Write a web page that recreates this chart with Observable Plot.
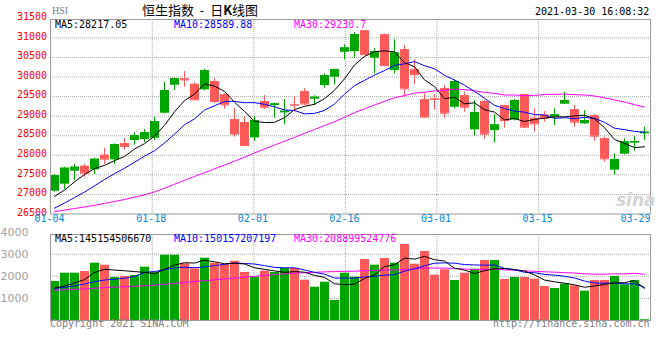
<!DOCTYPE html>
<html><head><meta charset="utf-8">
<script src="https://cdn.jsdelivr.net/npm/d3@7"></script>
<script src="https://cdn.jsdelivr.net/npm/@observablehq/plot@0.6"></script>
<style>
html,body{margin:0;padding:0;background:#fff;}
#wrap{position:relative;width:660px;height:360px;overflow:hidden;background:#fff;}
.t{position:absolute;white-space:pre;font:10px "DejaVu Sans Mono",monospace;line-height:10px;}
.p{position:absolute;left:0;}
</style></head><body><div id="wrap">
<div class="p" id="main" style="top:0"></div>
<div class="p" id="vol" style="top:222px"></div>
<div class="t" style="left:52px;top:5px;color:#7a7a7a;font:10px 'Liberation Serif',serif;line-height:12px;">HSI</div>
<div class="t" style="left:142px;top:3px;font:13px 'Noto Sans CJK SC';line-height:14px;">恒生指数  -  日<b>K</b>线图</div>
<div class="t" id="stamp" style="left:535px;top:7px;"></div>
<div class="t" id="m5" style="left:55px;top:19.5px;color:#000"></div>
<div class="t" id="m10" style="left:174px;top:19.5px;color:#0000ff"></div>
<div class="t" id="m30" style="left:294px;top:19.5px;color:#ff00ff"></div>
<div class="t" id="v5" style="left:55px;top:234px;color:#000"></div>
<div class="t" id="v10" style="left:174px;top:234px;color:#0000ff"></div>
<div class="t" id="v30" style="left:294px;top:234px;color:#ff00ff"></div>
<div class="t" style="left:50px;top:319px;color:#808080">Copyright 2021 SINA.COM</div>
<div class="t" style="left:493px;top:319px;color:#808080">http://finance.sina.com.cn</div>
<div class="t" style="left:616px;top:192px;color:#d4d4d4;font:italic bold 17px 'DejaVu Sans',sans-serif;line-height:17px;">sina</div>
</div>
<script>
// ---- data ----
const dates = ["01-04","01-05","01-06","01-07","01-08","01-11","01-12","01-13","01-14","01-15",
"01-18","01-19","01-20","01-21","01-22","01-25","01-26","01-27","01-28","01-29",
"02-01","02-02","02-03","02-04","02-05","02-08","02-09","02-10","02-11","02-16",
"02-17","02-18","02-19","02-22","02-23","02-24","02-25","02-26","03-01","03-02",
"03-03","03-04","03-05","03-08","03-09","03-10","03-11","03-12","03-15","03-16",
"03-17","03-18","03-19","03-22","03-23","03-24","03-25","03-26","03-29","03-30"];
const open = [27083,27262,27594,27722,27628,28003,27883,28300,28377,28403,
28437,29075,29790,29960,29816,29671,29884,29552,28913,28837,
28445,29373,29271,29084,29296,29628,29433,29781,29995,30633,
30650,31186,30480,31084,30165,30701,30190,29424,29441,29705,
29228,29526,28650,29373,28632,29271,28905,29552,28947,29032,
28972,29305,29169,28803,29015,28428,27620,28028,28309,28547];
const high = [27509,27696,27764,27764,27926,28181,28290,28428,28573,28658,
28973,29858,29975,30139,29858,30199,29952,29569,29194,28973,
28990,29526,29330,29424,29492,29705,29518,30080,30200,30820,
31135,31186,30727,31100,30957,30803,30437,29569,29552,29781,
29926,29611,29399,29399,29041,29280,29424,29560,29186,29118,
29186,29611,29271,29143,29040,28462,28037,28420,28479,28718];
const low = [27057,27126,27356,27441,27509,27764,27764,28130,28258,28317,
28377,29060,29654,29739,29399,29654,29331,29177,28462,28224,
28360,29177,28947,28777,29101,29271,29271,29714,29807,30437,
30480,30548,30080,30267,30080,29484,29807,28950,29160,28947,
29186,29101,28488,28411,28309,28692,28879,28692,28590,28845,
28760,29295,28718,28790,28360,27824,27492,28010,28105,28377];
const close = [27483,27671,27696,27543,27900,27900,28275,28224,28505,28581,
28862,29654,29960,29926,29416,30165,29373,29288,28539,28249,
28888,29228,29313,29126,29280,29313,29484,30037,30190,30744,
31084,30573,30650,30292,30616,29697,30063,28973,29424,29075,
29884,29228,29092,28539,28777,28888,29399,28718,28803,28947,
29041,29399,28845,28888,28488,27909,27892,28343,28352,28590];
const ma5 = [26950,27110,27320,27510,27659,27742,27863,27969,28161,28297,
28490,28766,29113,29397,29564,29824,29768,29634,29356,29123,
28867,28838,28843,28961,29167,29252,29303,29448,29661,29954,
30308,30526,30648,30669,30643,30366,30264,29928,29755,29447,
29484,29317,29341,29164,29104,28905,28939,28864,28917,28951,
28982,28982,29007,29024,28932,28706,28404,28304,28197,28217];
const ma10 = [26650,26780,26920,27060,27220,27380,27530,27670,27820,27978,
28116,28314,28541,28779,28931,29157,29267,29373,29377,29344,
29346,29304,29239,29159,29145,29060,29071,29146,29311,29561,
29780,29915,30049,30165,30299,30337,30395,30289,30212,30045,
29925,29791,29635,29460,29276,29195,29129,29103,29041,29028,
28944,28961,28936,28971,28942,28844,28693,28656,28611,28590];
const ma30 = [26560,26600,26640,26680,26720,26770,26820,26870,26930,26990,
27065,27160,27260,27360,27460,27555,27655,27750,27850,27950,
28060,28160,28260,28360,28460,28560,28660,28760,28860,28970,
29090,29187,29285,29377,29467,29527,29587,29612,29643,29659,
29693,29679,29650,29604,29583,29540,29541,29522,29531,29554,
29559,29565,29549,29541,29515,29468,29415,29358,29297,29231];
const volume = [1765,2140,2140,2217,2593,2502,1946,1991,2036,2412,
2186,2955,2955,2566,2339,2819,2593,2520,2683,2172,
1959,2231,2172,2353,2353,1824,1507,1733,905,2140,
1959,2760,2502,2805,2593,3439,2548,3122,2050,2294,
1810,2140,2321,2715,2715,1855,1946,1946,1869,1538,
1448,1643,1570,1326,1810,1810,1991,1615,1810,32];
const volMa5 = [1470,1560,1700,1850,2171,2318,2280,2250,2214,2178,
2114,2316,2509,2615,2600,2727,2654,2567,2591,2557,
2385,2313,2243,2177,2213,2186,2041,1953,1664,1621,
1648,1899,2053,2433,2523,2819,2777,2901,2750,2690,
2364,2283,2123,2256,2340,2349,2310,2235,2066,1831,
1749,1689,1614,1505,1560,1632,1702,1711,1808,1452];
const volMa10 = [1450,1500,1570,1650,1760,1830,1870,1910,1990,2174,
2216,2298,2379,2414,2389,2421,2485,2538,2603,2579,
2556,2484,2405,2384,2386,2286,2178,2099,1921,1918,
1918,1971,2004,2049,2073,2235,2339,2478,2592,2608,
2593,2531,2513,2504,2516,2358,2298,2180,2162,2086,
2050,2000,1925,1786,1696,1691,1696,1663,1657,1502];
const volMa30 = [1370,1390,1410,1430,1460,1490,1510,1530,1550,1575,
1600,1640,1680,1720,1760,1800,1840,1880,1920,1960,
2000,2040,2080,2110,2140,2160,2180,2200,2210,2224,
2230,2251,2263,2283,2283,2314,2334,2372,2372,2368,
2356,2329,2308,2313,2325,2293,2271,2252,2225,2204,
2187,2167,2147,2113,2095,2095,2111,2107,2137,2089];
const priceTicks = [26500,27000,27500,28000,28500,29000,29500,30000,30500,31000,31500];
const volTicks = [1000,2000,3000,4000];
const dateTicks = ["01-04","01-18","02-01","02-16","03-01","03-15","03-29"];
const priceMA = ["MA5:28217.05","MA10:28589.88","MA30:29230.7"];
const volMA = ["MA5:145154506670","MA10:150157207197","MA30:208899524776"];
const stamp = "2021-03-30 16:08:32";

// ---- drawing ----
document.getElementById("stamp").textContent = stamp;
["m5","m10","m30"].forEach((id,k)=>document.getElementById(id).textContent = priceMA[k]);
["v5","v10","v30"].forEach((id,k)=>document.getElementById(id).textContent = volMA[k]);

const GREEN = "#00a600", RED = "#ff5a5a", BLUE = "#0a84d6";
const N = dates.length;
const rows = dates.map((d,i)=>({i, d, o:open[i], h:high[i], l:low[i], c:close[i],
  m5:ma5[i], m10:ma10[i], m30:ma30[i], v:volume[i], v5:volMa5[i], v10:volMa10[i], v30:volMa30[i],
  up: close[i] >= open[i]}));
const ups = rows.filter(r=>r.up), downs = rows.filter(r=>!r.up);
const gridOf = t => dates.indexOf(t) * N / (N - 1);
const GRID = {stroke:"#a8a8a8", strokeDasharray:"1,1", strokeWidth:1};
const font = {fontFamily:"'DejaVu Sans Mono', monospace", fontSize:10};
const cx = r => r.i + 0.4;

const yMin = 26500, yMax = 31470;
const main = Plot.plot({
  width:660, height:230, marginLeft:50, marginRight:10, marginTop:19, marginBottom:16.5,
  style:{background:"transparent", overflow:"visible"},
  x:{domain:[0,N], axis:null},
  y:{domain:[yMin,yMax], axis:null},
  marks:[
    Plot.ruleY(priceTicks.filter(v=>v>yMin && v<yMax), GRID),
    Plot.ruleX(dateTicks.slice(1,-1).map(gridOf), GRID),
    Plot.ruleX(ups, {x:cx, y1:"l", y2:"h", stroke:GREEN}),
    Plot.ruleX(downs, {x:cx, y1:"l", y2:"h", stroke:RED}),
    Plot.rect(ups, {x1:r=>r.i, x2:r=>r.i+0.9, y1:"o", y2:"c", fill:GREEN}),
    Plot.rect(downs, {x1:r=>r.i, x2:r=>r.i+0.9, y1:"o", y2:"c", fill:RED}),
    Plot.ruleY(ups, {x1:r=>r.i, x2:r=>r.i+0.9, y:"c", stroke:GREEN}),
    Plot.ruleY(downs, {x1:r=>r.i, x2:r=>r.i+0.9, y:"c", stroke:RED}),
    Plot.line(rows, {x:cx, y:"m30", stroke:"#ff00ff", strokeWidth:1}),
    Plot.line(rows, {x:cx, y:"m10", stroke:"#0000ff", strokeWidth:1}),
    Plot.line(rows, {x:cx, y:"m5", stroke:"#000000", strokeWidth:1}),
    Plot.frame({stroke:"#9a9a9a"}),
    Plot.text(priceTicks, {y:d=>d, text:d=>String(d), frameAnchor:"left", textAnchor:"end", dx:-3.5, dy:-1.5, fill:"#ff0000", ...font}),
    Plot.text(dateTicks.slice(0,-1), {x:gridOf, text:d=>d, frameAnchor:"bottom", dy:7.5, dx:-1, fill:BLUE, ...font}),
    Plot.text(dateTicks.slice(-1), {text:d=>d, frameAnchor:"bottom-right", textAnchor:"end", dy:7.5, fill:BLUE, ...font})
  ]
});
document.getElementById("main").appendChild(main);

const vol = Plot.plot({
  width:660, height:108, marginLeft:50, marginRight:10, marginTop:12, marginBottom:10,
  style:{background:"transparent", overflow:"visible"},
  x:{domain:[0,N], axis:null},
  y:{domain:[0,3891], axis:null},
  marks:[
    Plot.ruleY([1000,2000,3000], GRID),
    Plot.ruleX(dateTicks.slice(1,-1).map(gridOf), GRID),
    Plot.rect(ups, {x1:r=>r.i, x2:r=>r.i+0.9, y1:()=>0, y2:"v", fill:GREEN}),
    Plot.rect(downs, {x1:r=>r.i, x2:r=>r.i+0.9, y1:()=>0, y2:"v", fill:RED}),
    Plot.line(rows, {x:cx, y:"v30", stroke:"#ff00ff", strokeWidth:1}),
    Plot.line(rows, {x:cx, y:"v10", stroke:"#0000ff", strokeWidth:1}),
    Plot.line(rows, {x:cx, y:"v5", stroke:"#000000", strokeWidth:1}),
    Plot.frame({stroke:"#9a9a9a"}),
    Plot.text(volTicks, {y:d=>d, text:d=>String(d), frameAnchor:"left", textAnchor:"end", dx:-22, fill:"#a0a0a0", fontFamily:"'DejaVu Sans', sans-serif", fontSize:11})
  ]
});
document.getElementById("vol").appendChild(vol);
</script>
</body></html>
